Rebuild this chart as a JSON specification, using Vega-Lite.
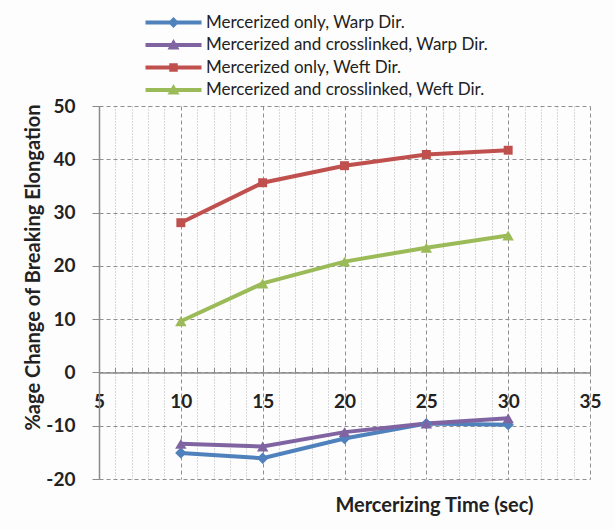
{
  "$schema": "https://vega.github.io/schema/vega-lite/v6.json",
  "autosize": {"type": "none"},
  "padding": {"left": 99, "top": 106, "right": 25, "bottom": 50},
  "width": 491,
  "height": 373,
  "background": "#fdfdfd",
  "config": {
    "view": {"stroke": null},
    "font": "Lato",
    "axis": {"labelFont": "Lato", "titleFont": "Lato", "labelColor": "#222", "titleColor": "#222"},
    "legend": {"labelFont": "Lato"}
  },
  "data": {"values": [
    {"time": 10, "value": -15.1, "series": "Mercerized only, Warp Dir."},
    {"time": 15, "value": -16.1, "series": "Mercerized only, Warp Dir."},
    {"time": 20, "value": -12.4, "series": "Mercerized only, Warp Dir."},
    {"time": 25, "value": -9.6, "series": "Mercerized only, Warp Dir."},
    {"time": 30, "value": -9.8, "series": "Mercerized only, Warp Dir."},
    {"time": 10, "value": -13.4, "series": "Mercerized and crosslinked, Warp Dir."},
    {"time": 15, "value": -13.9, "series": "Mercerized and crosslinked, Warp Dir."},
    {"time": 20, "value": -11.2, "series": "Mercerized and crosslinked, Warp Dir."},
    {"time": 25, "value": -9.6, "series": "Mercerized and crosslinked, Warp Dir."},
    {"time": 30, "value": -8.6, "series": "Mercerized and crosslinked, Warp Dir."},
    {"time": 10, "value": 28.1, "series": "Mercerized only, Weft Dir."},
    {"time": 15, "value": 35.6, "series": "Mercerized only, Weft Dir."},
    {"time": 20, "value": 38.8, "series": "Mercerized only, Weft Dir."},
    {"time": 25, "value": 40.9, "series": "Mercerized only, Weft Dir."},
    {"time": 30, "value": 41.7, "series": "Mercerized only, Weft Dir."},
    {"time": 10, "value": 9.6, "series": "Mercerized and crosslinked, Weft Dir."},
    {"time": 15, "value": 16.7, "series": "Mercerized and crosslinked, Weft Dir."},
    {"time": 20, "value": 20.8, "series": "Mercerized and crosslinked, Weft Dir."},
    {"time": 25, "value": 23.4, "series": "Mercerized and crosslinked, Weft Dir."},
    {"time": 30, "value": 25.7, "series": "Mercerized and crosslinked, Weft Dir."}
  ]},
  "encoding": {
    "x": {
      "field": "time", "type": "quantitative",
      "scale": {"domain": [5, 35], "nice": false, "zero": false},
      "axis": {
        "values": [5,6,7,8,9,10,11,12,13,14,15,16,17,18,19,20,21,22,23,24,25,26,27,28,29,30,31,32,33,34,35],
        "offset": -106.6,
        "domainColor": "#8a8a8a", "domainWidth": 1.5,
        "tickColor": "#8a8a8a", "tickWidth": 1, "tickSize": -5,
        "labelExpr": "datum.value % 5 === 0 ? datum.label : ''",
        "labelFontSize": 19, "labelFontWeight": "bold", "labelPadding": 25,
        "labelFlush": false,
        "grid": true,
        "gridDash": {"condition": {"test": "datum.value % 5 === 0", "value": [4, 3]}, "value": [1, 2]},
        "gridColor": {"condition": {"test": "datum.value % 5 === 0", "value": "#8f8f8f"}, "value": "#b5b5b5"},
        "gridWidth": 1,
        "title": "Mercerizing Time (sec)",
        "titleFontSize": 20, "titleFontWeight": "bold",
        "titleX": 335, "titleY": 123, "titleAlign": "center", "titleBaseline": "top"
      }
    },
    "y": {
      "field": "value", "type": "quantitative",
      "scale": {"domain": [-20, 50], "nice": false},
      "axis": {
        "values": [-20, -10, 0, 10, 20, 30, 40, 50],
        "labelExpr": "replace(datum.label, '\u2212', '-')",
        "domainColor": "#8a8a8a", "domainWidth": 1.5,
        "tickColor": "#8a8a8a", "tickSize": 7,
        "labelFontSize": 19, "labelFontWeight": "bold", "labelPadding": 17,
        "grid": true, "gridDash": [4, 3], "gridColor": "#8f8f8f",
        "title": "%age Change of Breaking Elongation",
        "titleFontSize": 20, "titleFontWeight": "bold",
        "titleX": -66, "titleY": 161, "titleAlign": "center", "titleBaseline": "middle", "titleAngle": -90
      }
    },
    "color": {
      "field": "series", "type": "nominal",
      "scale": {
        "domain": ["Mercerized only, Warp Dir.", "Mercerized and crosslinked, Warp Dir.", "Mercerized only, Weft Dir.", "Mercerized and crosslinked, Weft Dir."],
        "range": ["#4f81bd", "#8064a2", "#c0504d", "#9bbb59"]
      },
      "legend": {
        "orient": "none", "legendX": 66, "legendY": -92, "title": null,
        "padding": 0, "rowPadding": 4.5, "labelFontSize": 17, "labelColor": "#222", "labelLimit": 0,
        "labelOffset": 24, "symbolSize": 100, "symbolStrokeWidth": 0
      }
    }
  },
  "layer": [
    {"mark": {"type": "line", "strokeWidth": 4}},
    {
      "transform": [{"filter": "false"}],
      "mark": {"type": "point", "filled": true, "opacity": 1},
      "encoding": {
        "shape": {
          "field": "series", "type": "nominal",
          "scale": {
            "domain": ["Mercerized only, Warp Dir.", "Mercerized and crosslinked, Warp Dir.", "Mercerized only, Weft Dir.", "Mercerized and crosslinked, Weft Dir."],
            "range": [
              "M-5.6,-0.4H5.6V0.4H-5.6Z M0,-1.1L1.1,0L0,1.1L-1.1,0Z",
              "M-5.6,-0.4H5.6V0.4H-5.6Z M0,-1.2L1.2,0.9L-1.2,0.9Z",
              "M-5.6,-0.4H5.6V0.4H-5.6Z M-0.85,-0.85H0.85V0.85H-0.85Z",
              "M-5.6,-0.4H5.6V0.4H-5.6Z M0,-1.2L1.2,0.9L-1.2,0.9Z"
            ]
          },
          "legend": {
            "orient": "none", "legendX": 66, "legendY": -92, "title": null,
            "padding": 0, "rowPadding": 4.5, "labelFontSize": 17, "labelColor": "#222", "labelLimit": 0,
            "labelOffset": 24, "symbolSize": 100, "symbolStrokeWidth": 0
          }
        }
      }
    },
    {
      "transform": [{"filter": "datum.series === 'Mercerized only, Warp Dir.'"}],
      "mark": {"type": "point", "filled": true, "opacity": 1, "shape": "diamond", "size": 130}
    },
    {
      "transform": [{"filter": "datum.series === 'Mercerized and crosslinked, Warp Dir.'"}],
      "mark": {"type": "point", "filled": true, "opacity": 1, "shape": "triangle-up", "size": 130}
    },
    {
      "transform": [{"filter": "datum.series === 'Mercerized only, Weft Dir.'"}],
      "mark": {"type": "point", "filled": true, "opacity": 1, "shape": "square", "size": 80}
    },
    {
      "transform": [{"filter": "datum.series === 'Mercerized and crosslinked, Weft Dir.'"}],
      "mark": {"type": "point", "filled": true, "opacity": 1, "shape": "triangle-up", "size": 130}
    }
  ]
}
